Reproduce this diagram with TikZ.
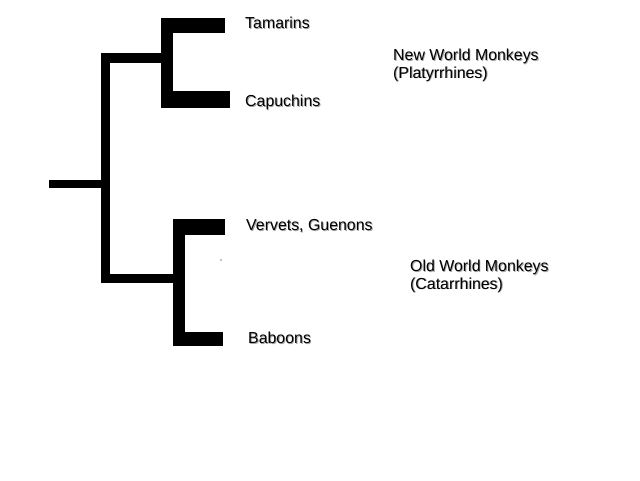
\documentclass[tikz,border=0pt]{standalone}
\usepackage{fontspec}
\setmainfont{Liberation Sans}
\begin{document}
\begin{tikzpicture}[x=1pt,y=-1pt,
  branch/.style={line width=#1, line cap=butt, draw=black},
  lbl/.style={anchor=base west, inner sep=0pt, text=black,
    font=\fontsize{15.9}{17.5}\selectfont},
  lblshade/.style={lbl, text=black!35, xshift=0.9pt, yshift=-0.9pt}]
\useasboundingbox (0,0) rectangle (640,480);

% junctions of the tree
\coordinate (root)   at (49,184);
\coordinate (rootJ)  at (105.5,184);
\coordinate (mainT)  at (105.5,53);
\coordinate (mainB)  at (105.5,283);
\coordinate (nwL)    at (101,58);
\coordinate (nwJ)    at (167,58);
\coordinate (nwT)    at (167,18);
\coordinate (nwB)    at (167,108);
\coordinate (owL)    at (101,278.5);
\coordinate (owJ)    at (179,278.5);
\coordinate (owT)    at (179,219);
\coordinate (owB)    at (179,346);
\coordinate (tamL)   at (161,25.5);
\coordinate (tamR)   at (225,25.5);
\coordinate (capL)   at (161,99.5);
\coordinate (capR)   at (230,99.5);
\coordinate (verL)   at (173,227);
\coordinate (verR)   at (225,227);
\coordinate (babL)   at (173,339);
\coordinate (babR)   at (223,339);

% tree branches
\draw[branch=8pt]  (root) -- (rootJ);
\draw[branch=9pt]  (mainT) -- (mainB);
\draw[branch=10pt] (nwL) -- (nwJ);
\draw[branch=12pt] (nwT) -- (nwB);
\draw[branch=15pt] (tamL) -- (tamR);
\draw[branch=17pt] (capL) -- (capR);
\draw[branch=9pt]  (owL) -- (owJ);
\draw[branch=12pt] (owT) -- (owB);
\draw[branch=16pt] (verL) -- (verR);
\draw[branch=14pt] (babL) -- (babR);

% small speck beside the lower clade
\fill[black] (221,260) circle (0.7);

% labels with a soft drop shade
\newcommand\taxonlabel[3]{%
  \node[lblshade] at (#2) {#3};
  \node[lbl] (#1) at (#2) {#3};}
\taxonlabel{tam}{245,28.5}{Tamarins}
\taxonlabel{cap}{245,106.5}{Capuchins}
\taxonlabel{nwm}{393,60.5}{New World Monkeys}
\taxonlabel{nwmsub}{393,78}{(Platyrrhines)}
\taxonlabel{ver}{246,230.5}{Vervets, Guenons}
\taxonlabel{owm}{410,271.5}{Old World Monkeys}
\taxonlabel{owmsub}{410,289}{(Catarrhines)}
\taxonlabel{bab}{248,343.5}{Baboons}
\end{tikzpicture}
\end{document}
